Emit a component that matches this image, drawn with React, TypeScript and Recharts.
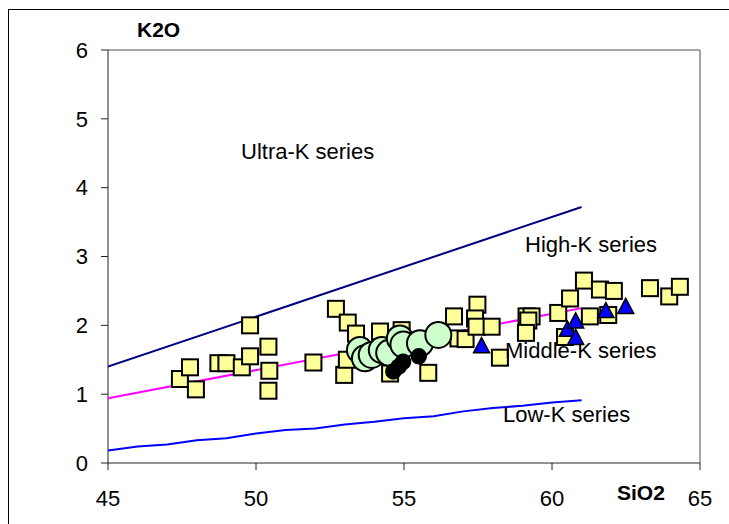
import React from 'react'
import { ScatterChart, Scatter, XAxis, YAxis, ReferenceLine } from 'recharts'

// boundary lines (SiO2, K2O)
const ultraHighLine = [[45, 1.4], [61, 3.72]]
const highMiddleLine = [[45, 0.94], [61, 2.25]]
const lowLine = [
  [45, 0.18], [46, 0.24], [47, 0.27], [48, 0.33], [49, 0.36], [50, 0.43], [51, 0.48],
  [52, 0.5], [53, 0.56], [54, 0.6], [55, 0.65], [56, 0.68], [57, 0.75], [58, 0.8],
  [59, 0.83], [60, 0.88], [61, 0.91],
]

const squares = [
  [47.43, 1.22], [47.77, 1.39], [47.97, 1.07], [48.73, 1.45], [49.0, 1.45], [49.52, 1.39],
  [49.8, 2.0], [49.8, 1.55], [50.42, 1.69], [50.45, 1.34], [50.42, 1.05], [51.94, 1.46],
  [52.7, 2.24], [53.1, 2.04], [53.38, 1.88], [52.98, 1.28], [53.07, 1.5], [54.19, 1.91],
  [54.92, 1.93], [54.53, 1.3], [55.82, 1.31], [56.69, 2.13], [56.84, 1.81], [57.08, 1.8],
  [57.48, 2.3], [57.4, 2.1], [57.45, 1.98], [57.96, 1.98], [58.24, 1.53], [59.14, 2.13],
  [59.31, 2.13], [59.2, 2.07], [59.12, 1.89], [60.21, 2.18], [60.61, 2.39], [61.08, 2.65],
  [61.62, 2.52], [62.09, 2.5], [61.28, 2.13], [61.9, 2.15], [60.44, 1.83], [63.31, 2.54],
  [63.96, 2.42], [64.32, 2.56],
]
const greenCircles = [
  [53.51, 1.64], [53.68, 1.52], [53.91, 1.57], [54.25, 1.64], [54.5, 1.6],
  [54.86, 1.81], [54.98, 1.72], [55.54, 1.74], [56.16, 1.86],
]
const blackCircles = [[54.64, 1.33], [54.82, 1.4], [54.97, 1.47], [55.5, 1.55]]
const triangles = [
  [57.62, 1.69], [60.52, 1.93], [60.8, 2.05], [60.8, 1.81], [61.82, 2.2], [62.49, 2.26],
]

const xTicks = [45, 50, 55, 60, 65]
const yTicks = [0, 1, 2, 3, 4, 5, 6]

const toPts = (arr: number[][]) => arr.map(([x, y]) => ({ x, y }))

const FONT = '"Liberation Sans", Arial, sans-serif'

const Square = ({ cx, cy }: any) => (
  <rect x={cx - 8} y={cy - 8} width={16} height={16} fill="#FFFF99" stroke="#000" strokeWidth={2} />
)
const GreenDot = ({ cx, cy }: any) => (
  <circle cx={cx} cy={cy} r={13} fill="#CCFFCC" stroke="#000" strokeWidth={2} />
)
const BlackDot = ({ cx, cy }: any) => (
  <circle cx={cx} cy={cy} r={7.5} fill="#000" stroke="#000" strokeWidth={1.5} />
)
const Triangle = ({ cx, cy }: any) => (
  <path d={`M${cx},${cy - 9} L${cx + 8},${cy + 6} L${cx - 8},${cy + 6} Z`} fill="#0000FF" stroke="#000" strokeWidth={1.5} />
)
const NoDot = () => <g />

const labelStyle: React.CSSProperties = {
  position: 'absolute', fontFamily: FONT, fontSize: 22, lineHeight: 1, color: '#000', whiteSpace: 'nowrap',
}

export default function App() {
  return (
    <div style={{ position: 'relative', width: 729, height: 524, overflow: 'hidden', background: '#fff' }}>
      <style>{'body{margin:0;overflow:hidden}'}</style>
      <div style={{ position: 'absolute', left: 8, top: 9, width: 800, height: 600, borderTop: '1px solid #000', borderLeft: '1px solid #000' }} />
      <ScatterChart width={729} height={524} margin={{ top: 50, right: 29, bottom: 31, left: 0 }} style={{ position: 'absolute', left: 0, top: 0 }}>
        <XAxis
          type="number" dataKey="x" domain={[45, 65]} ticks={xTicks} allowDataOverflow
          tickSize={7} tickMargin={20} height={30} stroke="#222"
          tick={{ fontSize: 22, fill: '#000', fontFamily: FONT }}
        />
        <YAxis
          type="number" dataKey="y" domain={[0, 6]} ticks={yTicks} allowDataOverflow
          tickSize={7} tickMargin={13} width={108} stroke="#222"
          tick={{ fontSize: 22, fill: '#000', fontFamily: FONT }}
        />
        <ReferenceLine y={6} stroke="#888" strokeWidth={1.5} />
        <ReferenceLine x={65} stroke="#888" strokeWidth={1.5} />
        <Scatter data={toPts(ultraHighLine)} line={{ stroke: '#000080', strokeWidth: 2 }} shape={NoDot} isAnimationActive={false} />
        <Scatter data={toPts(highMiddleLine)} line={{ stroke: '#FF00FF', strokeWidth: 2 }} shape={NoDot} isAnimationActive={false} />
        <Scatter data={toPts(lowLine)} line={{ stroke: '#0000FF', strokeWidth: 2 }} shape={NoDot} isAnimationActive={false} />
        <Scatter data={toPts(squares)} shape={Square} isAnimationActive={false} />
        <Scatter data={toPts(greenCircles)} shape={GreenDot} isAnimationActive={false} />
        <Scatter data={toPts(blackCircles)} shape={BlackDot} isAnimationActive={false} />
        <Scatter data={toPts(triangles)} shape={Triangle} isAnimationActive={false} />
      </ScatterChart>
      <div style={{ ...labelStyle, left: 137, top: 19, fontWeight: 'bold', fontSize: 21 }}>K2O</div>
      <div style={{ ...labelStyle, left: 617, top: 482, fontWeight: 'bold', fontSize: 21 }}>SiO2</div>
      <div style={{ ...labelStyle, left: 241, top: 141 }}>Ultra-K series</div>
      <div style={{ ...labelStyle, left: 525, top: 234 }}>High-K series</div>
      <div style={{ ...labelStyle, left: 505, top: 340 }}>Middle-K series</div>
      <div style={{ ...labelStyle, left: 503, top: 404 }}>Low-K series</div>
    </div>
  )
}
